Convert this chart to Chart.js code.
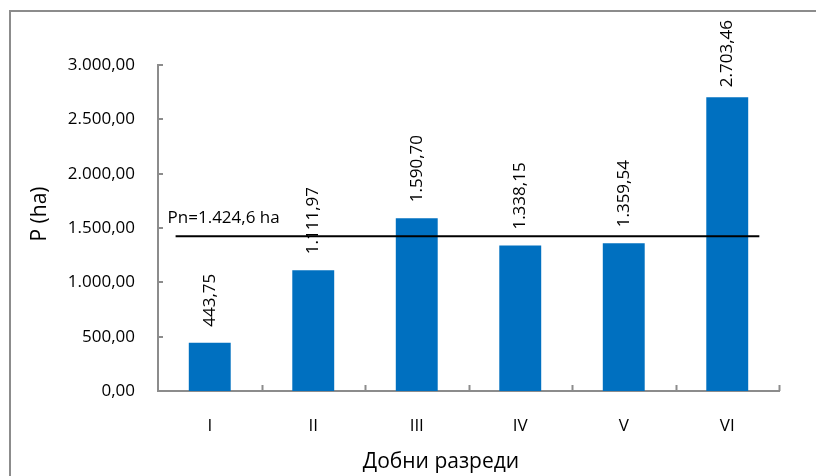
<!DOCTYPE html>
<html>
<head>
<meta charset="utf-8">
<script src="https://cdn.jsdelivr.net/npm/chart.js@4"></script>
<style>
  html, body { margin: 0; padding: 0; background: #fff; overflow: hidden; }
  #wrap { position: relative; width: 816px; height: 476px; overflow: hidden; }
  #frame { position: absolute; left: 9px; top: 10px; width: 900px; height: 600px; border: 2px solid #8c8c8c; box-sizing: border-box; }
  canvas { position: absolute; left: 0; top: 0; }
</style>
</head>
<body>
<div id="wrap">
  <div id="frame"></div>
  <canvas id="c" width="816" height="476"></canvas>
</div>
<script>
// ---- data ----
const categories = ['I', 'II', 'III', 'IV', 'V', 'VI'];
const values = [443.75, 1111.97, 1590.70, 1338.15, 1359.54, 2703.46];
const yTicks = [0, 500, 1000, 1500, 2000, 2500, 3000];
const pnValue = 1424.6;
const pnLabel = 'Pn=1.424,6 ha';
const pnSpan = [-0.33, 5.31];   // in category units
const xTitle = 'Добни разреди';
const yTitle = 'P (ha)';

function fmt(v, dec) {
  const s = Math.abs(v).toFixed(dec);
  let [ip, dp] = s.split('.');
  ip = ip.replace(/\B(?=(\d{3})+(?!\d))/g, '.');
  return (v < 0 ? '-' : '') + ip + (dp ? ',' + dp : '');
}

const FONT = '"Open Sans", "Noto Sans", sans-serif';
const AXIS_COLOR = '#8c8c8c';

const decorations = {
  id: 'decorations',
  beforeDatasetsDraw(chart) {
    const ctx = chart.ctx;
    const xs = chart.scales.x, ys = chart.scales.y, x2 = chart.scales.x2;
    ctx.save();
    // inside tick marks
    ctx.strokeStyle = AXIS_COLOR;
    ctx.lineWidth = 2;
    const n = categories.length;
    for (let i = 1; i <= n; i++) {
      const px = Math.round(xs.left + i * (xs.right - xs.left) / n) + 0.5;
      ctx.beginPath();
      ctx.moveTo(px, ys.bottom);
      ctx.lineTo(px, ys.bottom - 6);
      ctx.stroke();
    }
    yTicks.forEach(v => {
      const py = Math.round(ys.getPixelForValue(v));
      ctx.beginPath();
      ctx.moveTo(xs.left, py);
      ctx.lineTo(xs.left + 5, py);
      ctx.stroke();
    });
    // data labels (rotated)
    ctx.fillStyle = '#000';
    ctx.font = '17px ' + FONT;
    ctx.textAlign = 'left';
    ctx.textBaseline = 'middle';
    const meta = chart.getDatasetMeta(0);
    meta.data.forEach((bar, i) => {
      const txt = fmt(values[i], 2);
      const w = ctx.measureText(txt).width;
      let start = bar.y - 16;
      if (start - w < 20) start = 20 + w;
      ctx.save();
      ctx.translate(bar.x, start);
      ctx.rotate(-Math.PI / 2);
      ctx.fillText(txt, 0, 0);
      ctx.restore();
    });
    // Pn label
    const lx = x2.getPixelForValue(pnSpan[0]);
    const ly = ys.getPixelForValue(pnValue);
    ctx.textAlign = 'left';
    ctx.textBaseline = 'middle';
    ctx.fillText(pnLabel, lx - 8, ly - 18);
    // axis titles
    ctx.font = '21px ' + FONT;
    ctx.textAlign = 'center';
    ctx.fillText(xTitle, 441, 462);
    ctx.save();
    ctx.translate(40, 214);
    ctx.rotate(-Math.PI / 2);
    ctx.fillText(yTitle, 0, 0);
    ctx.restore();
    ctx.restore();
  }
};

new Chart(document.getElementById('c'), {
  type: 'bar',
  data: {
    labels: categories,
    datasets: [
      {
        type: 'bar',
        data: values,
        backgroundColor: '#0070C0',
        borderWidth: 0,
        grouped: false,
        barPercentage: 0.405,
        categoryPercentage: 1,
        xAxisID: 'x',
        yAxisID: 'y',
        order: 2
      },
      {
        type: 'line',
        data: [{x: pnSpan[0], y: pnValue}, {x: pnSpan[1], y: pnValue}],
        borderColor: '#000',
        borderWidth: 2,
        pointRadius: 0,
        fill: false,
        xAxisID: 'x2',
        yAxisID: 'y',
        order: 1
      }
    ]
  },
  options: {
    responsive: false,
    animation: false,
    layout: { padding: { top: 65, right: 37, left: 0, bottom: 0 } },
    plugins: { legend: { display: false }, tooltip: { enabled: false } },
    scales: {
      x: {
        type: 'category',
        offset: true,
        grid: { display: false, drawTicks: false },
        border: { display: true, color: AXIS_COLOR, width: 2 },
        ticks: { color: '#000', font: { family: FONT, size: 17 }, padding: 25, maxRotation: 0 },
        afterFit(s) { s.height = 85; }
      },
      x2: {
        type: 'linear',
        display: false,
        offset: false,
        grid: { offset: false },
        min: -0.5,
        max: categories.length - 0.5
      },
      y: {
        min: 0,
        max: 3000,
        grid: { display: false, drawTicks: false },
        border: { display: true, color: AXIS_COLOR, width: 2 },
        afterBuildTicks(s) { s.ticks = yTicks.map(v => ({ value: v })); },
        ticks: {
          color: '#000',
          font: { family: FONT, size: 17 },
          padding: 23,
          callback: v => fmt(v, 2)
        },
        afterFit(s) { s.width = 158; }
      }
    }
  },
  plugins: [decorations]
});
</script>
</body>
</html>
